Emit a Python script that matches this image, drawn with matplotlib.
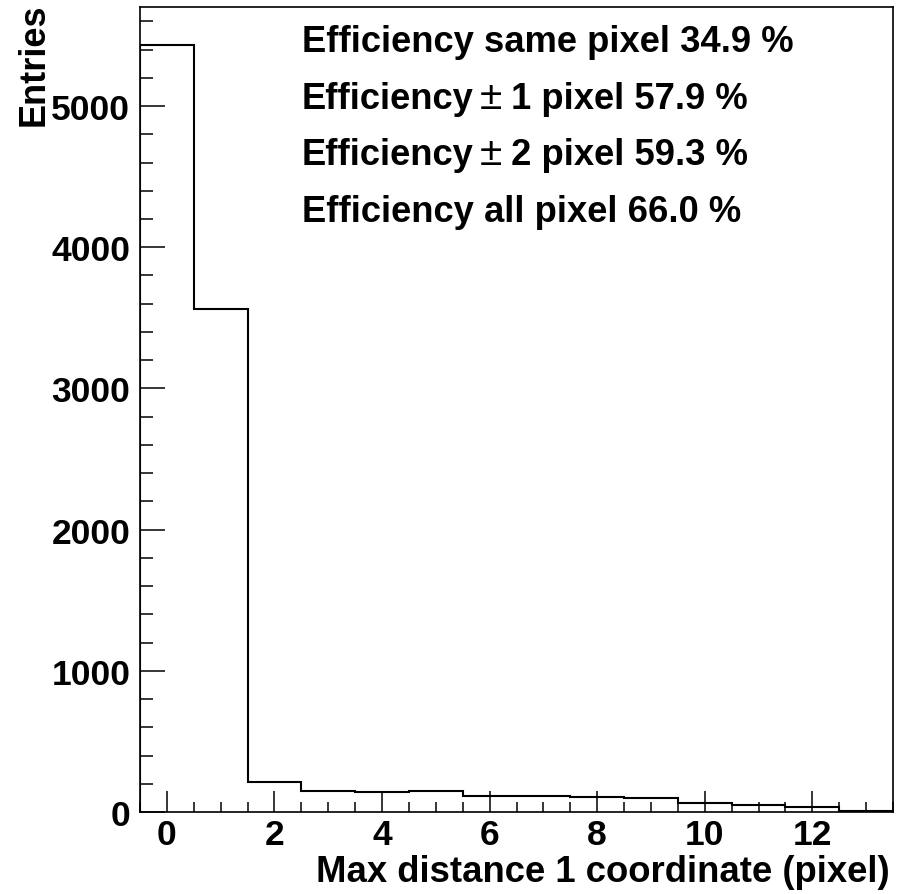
import matplotlib
matplotlib.use("Agg")
import matplotlib.pyplot as plt
from matplotlib.ticker import MultipleLocator
import numpy as np

# Data
bin_edges = np.arange(-0.5, 14.0, 1.0)
counts = [5430, 3565, 215, 149, 139, 147, 116, 111, 104, 101, 64, 50, 33, 7]
xlabel = "Max distance 1 coordinate (pixel)"
ylabel = "Entries"
eff_labels = ["same pixel", "1 pixel", "2 pixel", "all pixel"]
eff_values = [34.9, 57.9, 59.3, 66.0]
eff_pm = [False, True, True, False]

plt.rcParams['font.family'] = ['Liberation Sans', 'DejaVu Sans']
plt.rcParams['font.weight'] = 'bold'

W, H = 906, 895
fig = plt.figure(figsize=(W/100, H/100), dpi=100)
ax = fig.add_axes([140/W, (H-813)/H, (893-140)/W, (813-7.5)/H])

ax.stairs(counts, bin_edges, color='black', linewidth=1.5)
ax.set_xlim(-0.5, 13.5)
ax.set_ylim(0, 5705)

for s in ax.spines.values():
    s.set_linewidth(1.2)

ax.xaxis.set_major_locator(MultipleLocator(2))
ax.xaxis.set_minor_locator(MultipleLocator(0.5))
ax.yaxis.set_major_locator(MultipleLocator(1000))
ax.yaxis.set_minor_locator(MultipleLocator(200))
ax.tick_params(axis='x', which='major', direction='in', length=21*0.72, width=1.1,
               labelsize=25.5, pad=4)
ax.tick_params(axis='x', which='minor', direction='in', length=10.5*0.72, width=1.1)
ax.tick_params(axis='y', which='major', direction='in', length=25*0.72, width=1.1,
               labelsize=25.5, pad=7)
ax.tick_params(axis='y', which='minor', direction='in', length=12.5*0.72, width=1.1)
for lab in ax.get_xticklabels() + ax.get_yticklabels():
    lab.set_fontweight('bold')

fig.text(890/W, 1 - 873/H, xlabel, ha='right', va='center', fontsize=26.3, fontweight='bold')
fig.text(34/W, 1 - 4/H, ylabel, ha='center', va='top', rotation=90, fontsize=26, fontweight='bold')

fig.canvas.draw()
renderer = fig.canvas.get_renderer()

FS = 26.2
baselines = [52, 109, 165, 222]
for lbl, val, pm, yb in zip(eff_labels, eff_values, eff_pm, baselines):
    y = 1 - yb/H
    if not pm:
        fig.text(302/W, y, f"Efficiency {lbl} {val:.1f} %", ha='left', va='baseline',
                 fontsize=FS, fontweight='bold')
    else:
        t1 = fig.text(302/W, y, "Efficiency", ha='left', va='baseline',
                      fontsize=FS, fontweight='bold')
        x1 = t1.get_window_extent(renderer).x1 + 6
        t2 = fig.text(x1/W, y, "\u00b1", ha='left', va='baseline',
                      fontsize=FS*1.12, fontweight='normal')
        x2 = t2.get_window_extent(renderer).x1 - 1
        fig.text(x2/W, y, f" {lbl} {val:.1f} %", ha='left', va='baseline',
                 fontsize=FS, fontweight='bold')

fig.savefig("out.png", dpi=100)
